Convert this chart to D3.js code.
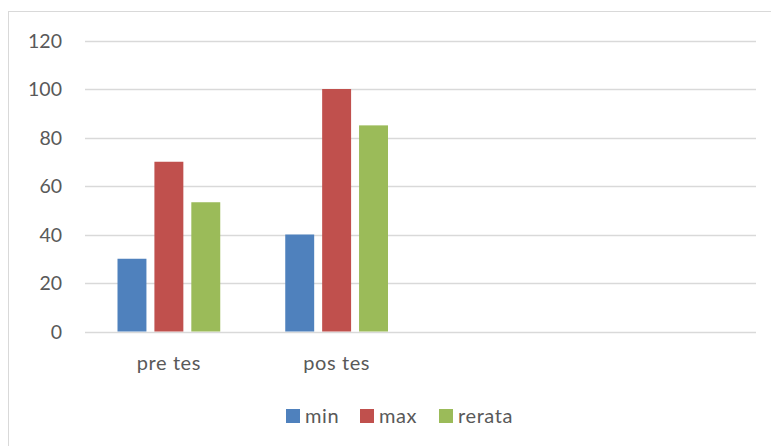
<!DOCTYPE html>
<html>
<head>
<meta charset="utf-8">
<script src="https://cdn.jsdelivr.net/npm/d3@7"></script>
<style>
  body { margin: 0; background: #fff; }
  text { font-family: Lato, "Open Sans", sans-serif; fill: #595959; }
</style>
</head>
<body>
<div id="viz"></div>
<script>
// categories (last two are empty slots in the original sheet)
const categories = ["pre tes", "pos tes", "", " "];
const seriesNames = ["min", "max", "rerata"];
const minValues = [30, 40, null, null];
const maxValues = [70, 100, null, null];
const rerataValues = [53.3, 85, null, null];
const yTicks = [0, 20, 40, 60, 80, 100, 120];

const colors = ["#4f81bd", "#c0504d", "#9bbb59"];
const seriesValues = [minValues, maxValues, rerataValues];

const W = 771, H = 446;
const plot = { left: 85, right: 756, top: 40.5, bottom: 331.5 };

const svg = d3.select("#viz")
  .append("svg")
  .attr("width", W)
  .attr("height", H);

// chart border
svg.append("rect")
  .attr("x", 8.5).attr("y", 11.5)
  .attr("width", 900).attr("height", 600)
  .attr("fill", "none")
  .attr("stroke", "#d9d9d9");

const x = d3.scaleBand()
  .domain(categories)
  .range([plot.left, plot.right]);

const xInner = d3.scaleBand()
  .domain(seriesNames)
  .range([32.5, x.bandwidth() - 32.5])
  .paddingInner(0.216);

const y = d3.scaleLinear()
  .domain([0, 120])
  .range([plot.bottom, plot.top]);

// gridlines
svg.append("g")
  .selectAll("line")
  .data(yTicks)
  .join("line")
  .attr("x1", plot.left)
  .attr("x2", plot.right)
  .attr("y1", d => Math.round(y(d)) + 0.5)
  .attr("y2", d => Math.round(y(d)) + 0.5)
  .attr("stroke", "#d9d9d9")
  .attr("stroke-width", 1.3);

// y tick labels
svg.append("g")
  .selectAll("text")
  .data(yTicks)
  .join("text")
  .attr("x", 62)
  .attr("y", d => y(d))
  .attr("dy", "0.36em")
  .attr("text-anchor", "end")
  .style("font-size", "19.5px")
  .text(d => d);

// bars
seriesNames.forEach((name, i) => {
  svg.append("g")
    .selectAll("rect")
    .data(categories.map((c, j) => ({ c: c, v: seriesValues[i][j] })).filter(d => d.v != null))
    .join("rect")
    .attr("x", d => x(d.c) + xInner(name))
    .attr("y", d => y(d.v))
    .attr("width", xInner.bandwidth())
    .attr("height", d => y(0) - y(d.v))
    .attr("fill", colors[i]);
});

// category labels
svg.append("g")
  .selectAll("text")
  .data(categories)
  .join("text")
  .attr("x", d => x(d) + x.bandwidth() / 2)
  .attr("y", 370)
  .attr("text-anchor", "middle")
  .style("font-size", "20px")
  .style("letter-spacing", "0.6px")
  .text(d => d.trim());

// legend
const legendX = [286, 360, 439];
const legend = svg.append("g");
seriesNames.forEach((name, i) => {
  legend.append("rect")
    .attr("x", legendX[i]).attr("y", 409)
    .attr("width", 14).attr("height", 14)
    .attr("fill", colors[i]);
  legend.append("text")
    .attr("x", legendX[i] + 19)
    .attr("y", 423)
    .style("font-size", "20px")
    .style("letter-spacing", "0.6px")
    .text(name);
});
</script>
</body>
</html>
